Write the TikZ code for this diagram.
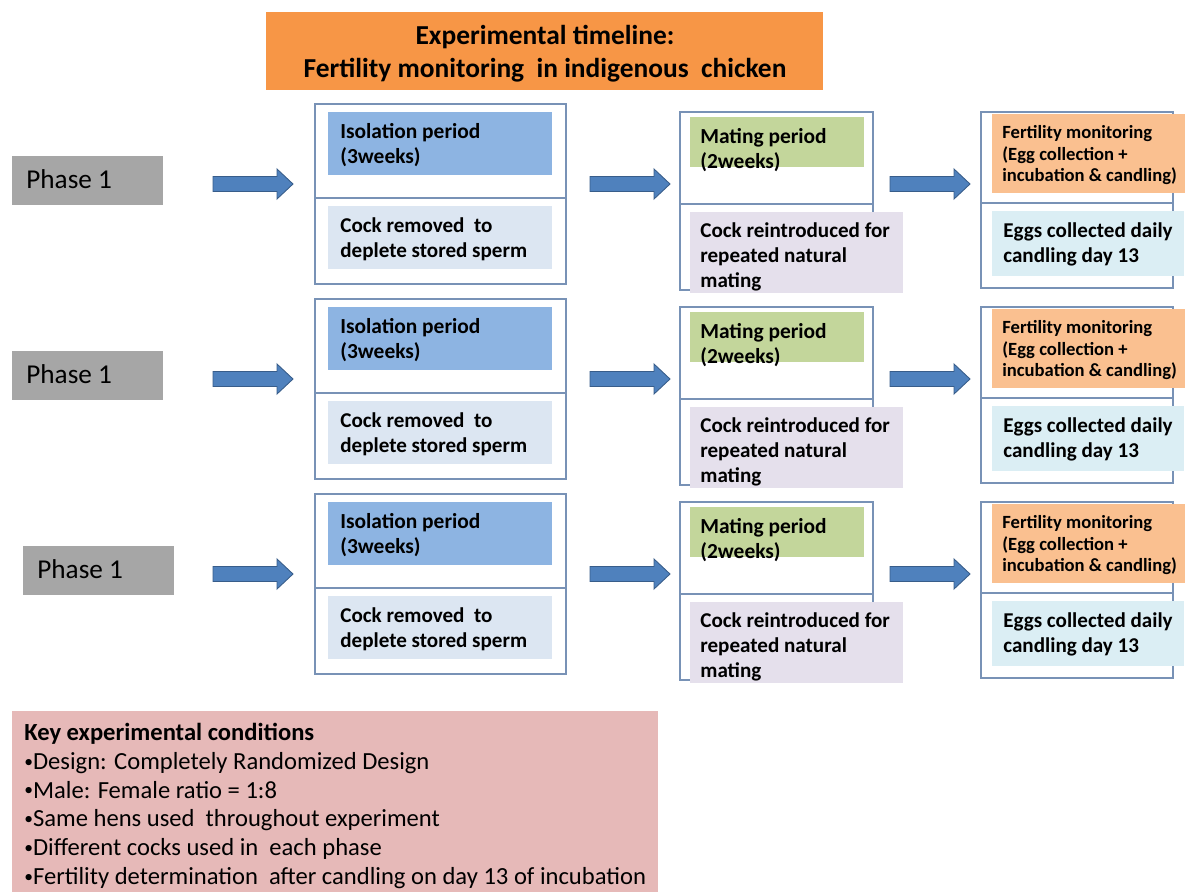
\documentclass[tikz,border=0pt]{standalone}
\usepackage{fontspec}
\setmainfont{Carlito}
\usetikzlibrary{fit}
\definecolor{titleor}{HTML}{F79646}
\definecolor{phasegray}{HTML}{A6A6A6}
\definecolor{isoblue}{HTML}{8DB4E2}
\definecolor{isolight}{HTML}{DCE6F2}
\definecolor{matgreen}{HTML}{C3D69B}
\definecolor{matpurple}{HTML}{E5E0EC}
\definecolor{fertor}{HTML}{FAC090}
\definecolor{fertblue}{HTML}{DBEEF4}
\definecolor{keyred}{HTML}{E6B9B8}
\definecolor{boxline}{HTML}{7892B6}
\definecolor{arrfill}{HTML}{4F81BD}
\definecolor{arrline}{HTML}{385D8A}
\newcommand{\kbul}{{\fontsize{10}{10}\selectfont\raisebox{0.25ex}{•}}}
\tikzset{
  fillbox/.style={inner sep=0pt, draw=none},
  outerbox/.style={inner sep=0pt, draw=boxline, line width=0.7pt, fill=white},
  divline/.style={draw=boxline, line width=0.7pt},
  boxtxt/.style={inner sep=0pt, anchor=north west, align=left, text=black,
    font=\fontsize{12}{14.17}\selectfont\bfseries},
  headtxt/.style={inner sep=0pt, anchor=north west, align=left, text=black,
    font=\fontsize{12.2}{14.17}\selectfont\bfseries},
  ferttxt/.style={inner sep=0pt, anchor=north west, align=left, text=black,
    font=\fontsize{10.6}{12.3}\selectfont\bfseries},
  phasetxt/.style={inner sep=0pt, anchor=base west, text=black,
    font=\fontsize{15.5}{18}\selectfont},
  arrowshape/.style={fill=arrfill, draw=arrline, line width=0.5pt},
  barrow/.pic={\filldraw[arrowshape]
     (0,-7.5) -- (64,-7.5) -- (64,-15) -- (80,0) -- (64,15) -- (64,7.5) -- (0,7.5) -- cycle;}
}
\begin{document}
\begin{tikzpicture}[x=0.02cm,y=-0.02cm]
\useasboundingbox (0,0) rectangle (1189,892);

% title
\node[fillbox, fit={(266,12) (823,90)}, fill=titleor] (title) {};
\node[inner sep=0pt, anchor=north, align=center, font=\fontsize{15.6}{18.7}\selectfont\bfseries]
  (titletxt) at (545,21) {\strut Experimental timeline:\\Fertility monitoring\ \ in indigenous\ \ chicken};

\foreach \r/\dy/\sx in {1/0/0, 2/195/0, 3/390/11}{
  % phase
  \node[fillbox, fit={(12+\sx,156+\dy) (163+\sx,205+\dy)}, fill=phasegray] (ph\r) {};
  \node[phasetxt] (pht\r) at (26+\sx,188+\dy) {Phase 1};
  % arrows
  \pic at (213,184+\dy) {barrow};
  \pic at (590,184+\dy) {barrow};
  \pic at (890,184+\dy) {barrow};
  % isolation block
  \node[outerbox, fit={(315,104+\dy) (566,284+\dy)}] (iso\r) {};
  \draw[divline] (315,198+\dy) -- (566,198+\dy);
  \node[fillbox, fit={(328,112+\dy) (552,175+\dy)}, fill=isoblue] (isoh\r) {};
  \node[fillbox, fit={(328,206+\dy) (552,269+\dy)}, fill=isolight] (isob\r) {};
  \node[headtxt] (isoht\r) at (340,120.5+\dy) {\strut Isolation period\\(3weeks)};
  \node[boxtxt] (isobt\r) at (340,214.5+\dy) {\strut Cock removed\ \ to\\deplete stored sperm};
  % mating block
  \node[outerbox, fit={(680,112+\dy) (873,290+\dy)}] (mat\r) {};
  \draw[divline] (680,204+\dy) -- (873,204+\dy);
  \node[fillbox, fit={(690,117+\dy) (864,167+\dy)}, fill=matgreen] (math\r) {};
  \node[fillbox, fit={(690,212+\dy) (903,293+\dy)}, fill=matpurple] (matb\r) {};
  \node[headtxt] (matht\r) at (700,125.5+\dy) {\strut Mating period\\(2weeks)};
  \node[boxtxt] (matbt\r) at (700,219.5+\dy) {\strut Cock reintroduced for\\repeated natural\\mating};
  % fertility block
  \node[outerbox, fit={(981,112+\dy) (1173,288+\dy)}] (fer\r) {};
  \draw[divline] (981,203+\dy) -- (1173,203+\dy);
  \node[fillbox, fit={(992,114+\dy) (1185,193+\dy)}, fill=fertor] (ferh\r) {};
  \node[fillbox, fit={(992,211+\dy) (1184,276+\dy)}, fill=fertblue] (ferb\r) {};
  \node[ferttxt] (ferht\r) at (1002,123+\dy) {\strut Fertility monitoring\\(Egg collection +\\incubation \& candling)};
  \node[boxtxt] (ferbt\r) at (1003,219.5+\dy) {\strut Eggs collected daily\\candling day 13};
}

% key box
\node[fillbox, fit={(12,711) (658,892)}, fill=keyred] (key) {};
\node[inner sep=0pt, anchor=north west, align=left, font=\fontsize{14}{16.44}\selectfont]
  (keytxt) at (24,719.7) {\strut\textbf{Key experimental conditions}\\
  \kbul Design: Completely Randomized Design\\
  \kbul Male: Female ratio = 1:8\\
  \kbul Same hens used\ \ throughout experiment\\
  \kbul Different cocks used in\ \ each phase\\
  \kbul Fertility determination\ \ after candling on day 13 of incubation};
\end{tikzpicture}
\end{document}
